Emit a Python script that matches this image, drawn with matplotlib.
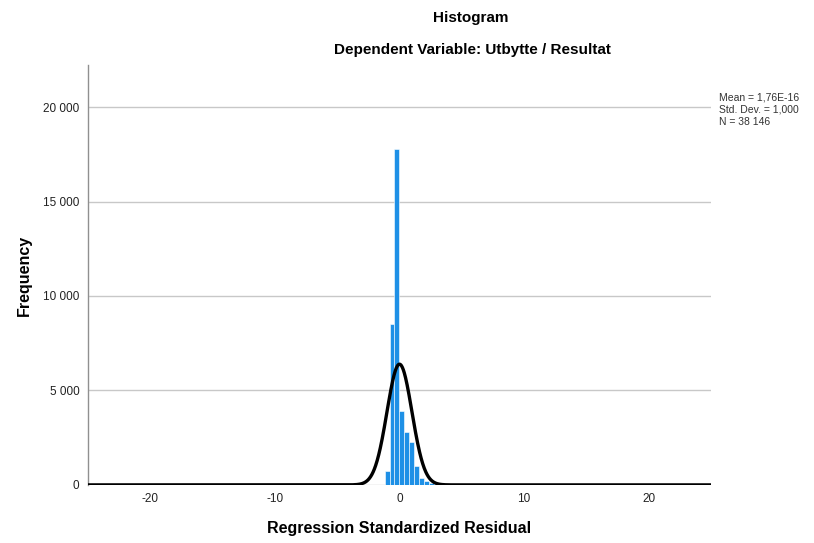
import matplotlib
matplotlib.use("Agg")
import matplotlib.pyplot as plt
import numpy as np

plt.rcParams['font.family'] = ['Liberation Sans', 'DejaVu Sans']
plt.rcParams['axes.unicode_minus'] = False

# data
bin_edges = [-1.2, -0.8, -0.4, 0.0, 0.4, 0.8, 1.2, 1.6, 2.0, 2.4, 2.8, 3.2]
bin_counts = [757, 8500, 17760, 3930, 2790, 2290, 1000, 390, 230, 100, 60]
curve_peak = 6390
x_ticks = [-20, -10, 0, 10, 20]
y_ticks = [0, 5000, 10000, 15000, 20000]
y_tick_labels = ['0', '5 000', '10 000', '15 000', '20 000']
stats_text = "Mean = 1,76E-16\nStd. Dev. = 1,000\nN = 38 146"

fig = plt.figure(figsize=(8.14, 5.43), dpi=100)
ax = fig.add_axes([0.108, 0.107, 0.7655, 0.773])

widths = np.diff(bin_edges)
ax.bar(bin_edges[:-1], bin_counts, width=widths, align='edge',
       color='#1e90e6', edgecolor='white', linewidth=0.4, zorder=2)

# fitted normal curve
xs = np.linspace(-25, 25, 2000)
ax.plot(xs, curve_peak * np.exp(-xs ** 2 / 2), color='black', lw=2.4, zorder=3,
        solid_capstyle='butt')

ax.set_xlim(-25, 25)
ax.set_ylim(0, 22220)
ax.set_xticks(x_ticks)
ax.set_yticks(y_ticks)
ax.set_yticklabels(y_tick_labels)
ax.tick_params(axis='both', length=0, labelsize=8.5, colors='#222222', pad=6)
ax.yaxis.grid(True, color='#c8c8c8', lw=1)
ax.set_axisbelow(True)
for s in ['top', 'right', 'bottom']:
    ax.spines[s].set_visible(False)
ax.spines['left'].set_color('#909090')
ax.spines['left'].set_linewidth(1)

ax.set_xlabel('Regression Standardized Residual', fontsize=11.5, fontweight='bold', labelpad=11)
ax.set_ylabel('Frequency', fontsize=11.5, fontweight='bold', labelpad=8)

fig.text(0.578, 0.966, 'Histogram', ha='center', va='center', fontsize=11, fontweight='bold')
fig.text(0.580, 0.908, 'Dependent Variable: Utbytte / Resultat', ha='center', va='center',
         fontsize=11, fontweight='bold')
fig.text(0.883, 0.798, stats_text, ha='left', va='center', fontsize=7.5, color='#333333',
         linespacing=1.3)

fig.savefig('out.png', dpi=100)
